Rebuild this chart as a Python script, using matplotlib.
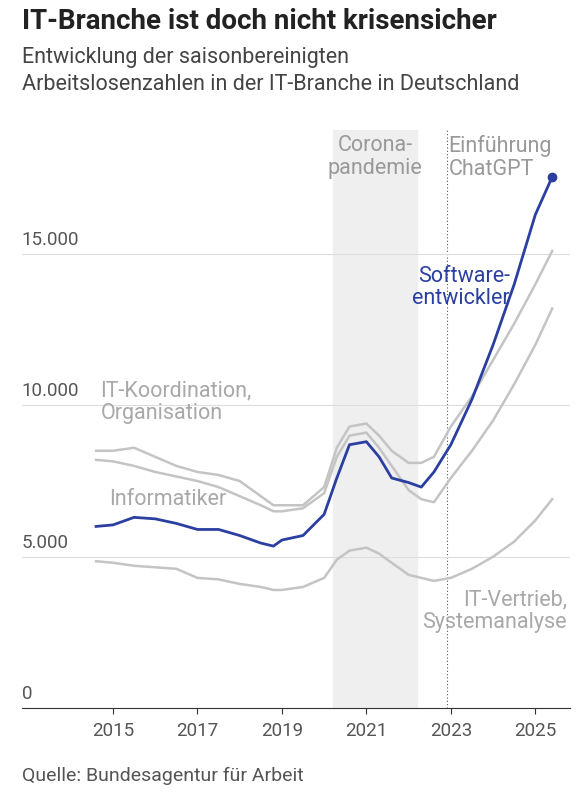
import matplotlib.pyplot as plt
import numpy as np

plt.rcParams['font.family'] = ['Roboto', 'DejaVu Sans']

years = [2014.6, 2015.0, 2015.5, 2016.0, 2016.5, 2017.0, 2017.5, 2018.0, 2018.5, 2018.8, 2019.0, 2019.5,
         2020.0, 2020.3, 2020.6, 2021.0, 2021.3, 2021.6, 2022.0, 2022.3, 2022.6, 2023.0, 2023.5, 2024.0,
         2024.5, 2025.0, 2025.4]
software = [6000, 6050, 6300, 6250, 6100, 5900, 5900, 5700, 5450, 5350, 5550, 5700,
            6400, 7600, 8700, 8800, 8300, 7600, 7450, 7300, 7800, 8700, 10200, 12000,
            14000, 16300, 17550]
koordination = [8500, 8500, 8600, 8300, 8000, 7800, 7700, 7500, 7000, 6700, 6700, 6700,
                7300, 8600, 9300, 9400, 9000, 8500, 8100, 8100, 8300, 9300, 10300, 11500,
                12700, 14000, 15100]
informatiker = [8200, 8150, 8000, 7800, 7650, 7500, 7300, 7000, 6700, 6500, 6500, 6600,
                7100, 8300, 9000, 9100, 8600, 8000, 7200, 6900, 6800, 7600, 8500, 9500,
                10700, 12000, 13200]
vertrieb = [4850, 4800, 4700, 4650, 4600, 4300, 4250, 4100, 4000, 3900, 3900, 4000,
            4300, 4900, 5200, 5300, 5100, 4800, 4400, 4300, 4200, 4300, 4600, 5000,
            5500, 6200, 6900]
xticks = [2015, 2017, 2019, 2021, 2023, 2025]
yticks = [0, 5000, 10000, 15000]

blue = '#2b3fa0'
gray = '#c4c4c4'
lab = '#a8a8a8'

fig = plt.figure(figsize=(5.88, 8.0), dpi=100)
ax = fig.add_axes([0.037, 0.115, 0.933, 0.7225])
ax.set_xlim(2012.84, 2025.83)
ax.set_ylim(0, 19100)

ax.axvspan(2020.2, 2022.2, color='#efefef', zorder=0)
ax.axvline(2022.9, color='#555555', lw=0.8, ls=(0, (1, 2)), zorder=1)
for v in yticks[1:]:
    ax.axhline(v, color='#dddddd', lw=0.8, zorder=1)
    ax.text(2012.84, v + 300, f"{v:,}".replace(',', '.'), fontsize=13.5, color='#555555')
ax.text(2012.84, 300, '0', fontsize=13.5, color='#555555')

for s in [koordination, informatiker, vertrieb]:
    ax.plot(years, s, color=gray, lw=1.8, zorder=2)
ax.plot(years, software, color=blue, lw=2, zorder=3)
ax.plot(years[-1], software[-1], 'o', color=blue, ms=6, zorder=4)

fs = 15.5
ax.text(2021.2, 18200, 'Corona-\npandemie', ha='center', va='center', fontsize=fs, color='#999999', linespacing=1.1)
ax.text(2022.95, 18200, 'Einführung\nChatGPT', ha='left', va='center', fontsize=fs, color='#999999', linespacing=1.1)
ax.text(2024.4, 13900, 'Software-\nentwickler', ha='right', va='center', fontsize=fs, color=blue, linespacing=1.1)
ax.text(2014.7, 10100, 'IT-Koordination,\nOrganisation', ha='left', va='center', fontsize=fs, color=lab, linespacing=1.1)
ax.text(2014.9, 6900, 'Informatiker', ha='left', va='center', fontsize=fs, color=lab)
ax.text(2025.75, 3200, 'IT-Vertrieb,\nSystemanalyse', ha='right', va='center', fontsize=fs, color=lab, linespacing=1.1)

for sp in ['top', 'right', 'left']:
    ax.spines[sp].set_visible(False)
ax.spines['bottom'].set_color('#333333')
ax.set_yticks([])
ax.set_xticks(xticks)
ax.tick_params(axis='x', labelsize=13.5, labelcolor='#555555', length=4, color='#333333', pad=6)

fig.text(0.037, 0.973, 'IT-Branche ist doch nicht krisensicher', fontsize=20, fontweight='bold', va='center', color='#222222')
fig.text(0.037, 0.911, 'Entwicklung der saisonbereinigten\nArbeitslosenzahlen in der IT-Branche in Deutschland',
         fontsize=15.5, va='center', color='#444444', linespacing=1.35)
fig.text(0.037, 0.03, 'Quelle: Bundesagentur für Arbeit', fontsize=14, va='center', color='#555555')

fig.savefig('out.png', dpi=100)
